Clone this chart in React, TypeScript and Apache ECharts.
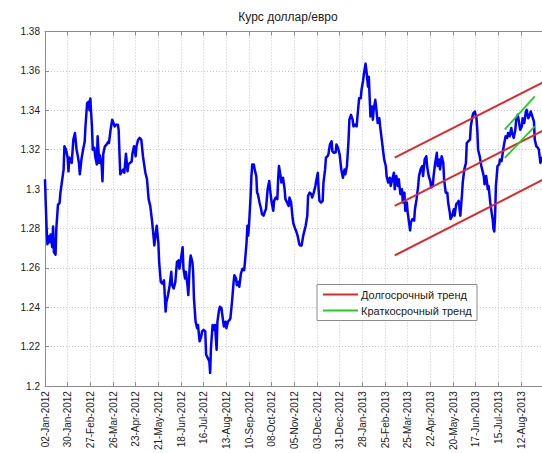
import React, { useEffect, useRef } from "react";
import * as echarts from "echarts";

const chartTitle = "Курс доллар/евро";
const tickLabels = [
  "02-Jan-2012", "30-Jan-2012", "27-Feb-2012", "26-Mar-2012", "23-Apr-2012", "21-May-2012",
  "18-Jun-2012", "16-Jul-2012", "13-Aug-2012", "10-Sep-2012", "08-Oct-2012", "05-Nov-2012",
  "03-Dec-2012", "31-Dec-2012", "28-Jan-2013", "25-Feb-2013", "25-Mar-2013", "22-Apr-2013",
  "20-May-2013", "17-Jun-2013", "15-Jul-2013", "12-Aug-2013",
];

// [days since 02-Jan-2012, USD per EUR]
const rate2012: [number, number][] = [
  [0,1.305],[1,1.2915],[2,1.2798],[3,1.272],[5,1.276],[6,1.273],[7,1.277],[9,1.2705],[10,1.281],[11,1.268],[13,1.2667],[14,1.280],[16,1.292],[18,1.293],[19,1.298],[21,1.304],[23,1.310],[24,1.3217],[26,1.320],[28,1.3159],[29,1.309],[30,1.316],[32,1.314],[33,1.3133],[35,1.325],[36,1.3268],[37,1.3285],[39,1.320],[40,1.318],[42,1.313],[43,1.3075],[45,1.315],[47,1.320],[49,1.324],[50,1.3318],[52,1.3436],[54,1.3444],[55,1.340],[56,1.346],[57,1.3385],[58,1.332],[59,1.320],[61,1.321],[62,1.3167],[64,1.3125],[65,1.3268],[67,1.3133],[68,1.317],[70,1.312],[71,1.304],[72,1.318],[74,1.3217],[76,1.3226],[78,1.324],[79,1.3234],[81,1.330],[83,1.3352],[84,1.3343],[86,1.3318],[88,1.3327],[90,1.3327],[91,1.330],[92,1.318],[93,1.3075],[95,1.309],[97,1.310],[98,1.3083],[100,1.318],[102,1.309],[103,1.3125],[105,1.3133],[107,1.314],[108,1.318],[110,1.3217],[112,1.3167],[113,1.3217],[115,1.325],[117,1.326],[119,1.325],[121,1.3167],[124,1.3083],[126,1.305],[128,1.2949],[130,1.2915],[132,1.2848],[134,1.2764],[135,1.2714],[137,1.278],[138,1.2814],[140,1.273],[141,1.263],[143,1.2529],[145,1.252],[147,1.2537],[149,1.2378],[150,1.2428],[152,1.2462],[154,1.2512],[156,1.258],[157,1.2512],[159,1.2495],[161,1.2529],[163,1.263],[165,1.2638],[166,1.2596],[168,1.2647],[170,1.2705],[171,1.2596],[173,1.2546],[174,1.258],[176,1.2512],[177,1.2462],[179,1.263],[180,1.2663],[182,1.263],[183,1.258],[184,1.2445],[186,1.2327],[188,1.2294],[189,1.231],[191,1.2227],[193,1.2252],[194,1.2277],[196,1.2285],[198,1.2277],[199,1.216],[201,1.2143],[203,1.2126],[204,1.2067],[205,1.2193],[207,1.231],[209,1.2285],[210,1.231],[212,1.2185],[213,1.2327],[215,1.2386],[216,1.2403],[218,1.2395],[219,1.2361],[221,1.2302],[223,1.2327],[224,1.2294],[226,1.2327],[228,1.2336],[229,1.2344],[231,1.2428],[233,1.2529],[234,1.2563],[236,1.2546],[237,1.2512],[239,1.2529],[240,1.2504],[242,1.2571],[244,1.2596],[246,1.2588],[247,1.263],[249,1.273],[250,1.2814],[251,1.2764],[252,1.2814],[254,1.2966],[255,1.3066],[256,1.3125],[258,1.3125],[259,1.310],[261,1.3066],[262,1.2982],[263,1.2974],[265,1.2932],[267,1.2898],[268,1.2873],[270,1.2865],[272,1.289],[273,1.2898],[275,1.2999],[277,1.3041],[278,1.2999],[280,1.2932],[282,1.289],[283,1.294],[285,1.2957],[287,1.2949],[288,1.305],[289,1.3117],[291,1.3066],[292,1.3033],[294,1.3058],[296,1.2999],[297,1.2949],[299,1.2932],[301,1.2915],[302,1.2957],[304,1.2932],[306,1.2848],[307,1.2823],[309,1.2798],[310,1.279],[312,1.2764],[314,1.2722],[315,1.2714],[317,1.2714],[319,1.2764],[320,1.278],[322,1.2814],[324,1.2865],[325,1.2966],[327,1.2982],[329,1.2974],[330,1.2957],[332,1.2982],[334,1.3016],[335,1.3041],[337,1.3083],[338,1.2999],[339,1.294],[341,1.2932],[343,1.294],[344,1.3033],[346,1.310],[347,1.3159],[349,1.3167],[350,1.3175],[352,1.3226],[354,1.3243],[355,1.3192],[357,1.3184],[359,1.3187],[360,1.3226],[362,1.3209],
];
const rate2013: [number, number][] = [
  [364,1.3175],[366,1.310],[368,1.3058],[370,1.310],[371,1.3075],[373,1.3117],[375,1.3251],[376,1.3352],[378,1.3377],[380,1.3352],[381,1.3318],[383,1.3327],[385,1.3318],[386,1.3369],[388,1.3461],[390,1.3461],[391,1.3503],[393,1.3553],[394,1.3587],[396,1.3637],[397,1.3604],[399,1.352],[400,1.357],[401,1.3469],[402,1.3369],[404,1.3419],[405,1.3352],[406,1.3402],[408,1.3453],[409,1.3419],[411,1.3335],[413,1.336],[414,1.3318],[416,1.3251],[418,1.3184],[419,1.315],[421,1.3117],[422,1.3066],[424,1.3033],[426,1.3058],[427,1.3016],[429,1.305],[431,1.3083],[432,1.2999],[434,1.3066],[436,1.3016],[437,1.305],[439,1.2974],[441,1.2999],[442,1.2932],[444,1.2982],[445,1.289],[447,1.2932],[448,1.2882],[450,1.2823],[451,1.279],[452,1.2831],[454,1.2848],[456,1.284],[457,1.2898],[459,1.2949],[461,1.3016],[462,1.3066],[464,1.310],[466,1.3117],[467,1.3066],[469,1.315],[471,1.3167],[472,1.3117],[474,1.3066],[476,1.3041],[477,1.3008],[479,1.3016],[480,1.3066],[482,1.3133],[484,1.3184],[485,1.3117],[487,1.315],[488,1.310],[490,1.3167],[492,1.3133],[493,1.305],[495,1.2982],[497,1.2982],[498,1.2932],[500,1.2882],[501,1.2848],[503,1.2865],[505,1.2898],[506,1.2865],[508,1.2924],[510,1.2932],[511,1.294],[513,1.2865],[515,1.2966],[516,1.3033],[518,1.310],[520,1.3133],[521,1.3234],[523,1.3243],[525,1.3251],[526,1.3318],[528,1.3369],[529,1.3385],[531,1.3394],[533,1.336],[534,1.3301],[535,1.320],[537,1.3167],[539,1.3117],[540,1.310],[542,1.3066],[543,1.3024],[545,1.3066],[547,1.2999],[548,1.3016],[550,1.2932],[552,1.2873],[553,1.2848],[554,1.2798],[555,1.2785],[556,1.2865],[557,1.3016],[559,1.3117],[561,1.3125],[562,1.315],[564,1.3142],[566,1.320],[567,1.3226],[569,1.3268],[571,1.326],[572,1.3285],[574,1.3268],[576,1.331],[577,1.3285],[579,1.326],[581,1.3301],[582,1.3352],[584,1.3377],[585,1.3352],[587,1.3301],[589,1.3318],[590,1.336],[592,1.3335],[594,1.3394],[595,1.3402],[597,1.336],[599,1.3377],[600,1.3394],[602,1.3369],[604,1.3343],[605,1.3251],[607,1.3217],[609,1.3209],[610,1.320],[612,1.3133],[614,1.3159],[617,1.314],
];

// Long-term trend channel (start/end day, value)
const longTrendUpper: [number, number][] = [[432, 1.316], [630, 1.3572]];
const longTrendMiddle: [number, number][] = [[432, 1.2915], [630, 1.3328]];
const longTrendLower: [number, number][] = [[432, 1.2663], [630, 1.3079]];
// Short-term trend channel
const shortTrendUpper: [number, number][] = [[568, 1.3303], [605, 1.3471]];
const shortTrendLower: [number, number][] = [[568, 1.3159], [605, 1.3318]];

const legendNames = ["Долгосрочный тренд", "Краткосрочный тренд"];

const FONT = "'Liberation Sans', Arial, sans-serif";
const RED = "#dd2a2a";
const GREEN = "#22cc22";
const BLUE = "#0000ff";

export default function App() {
  const ref = useRef<HTMLDivElement>(null);
  useEffect(() => {
    if (!ref.current) return;
    const chart = echarts.init(ref.current, undefined, { renderer: "svg" });
    const gridLine = { show: true, lineStyle: { color: "#c8c8c8", type: [1, 2] as any, width: 1 } };
    const xBase = {
      type: "value" as const,
      min: 0,
      max: 630,
      interval: 28,
      axisLine: { show: true, onZero: false, lineStyle: { color: "#8c8c8c" } },
      axisTick: { show: true, inside: true, length: 4, lineStyle: { color: "#8c8c8c" } },
    };
    const trend = (name: string, data: [number, number][], color: string, width: number) => ({
      type: "line" as const,
      name,
      data,
      showSymbol: false,
      symbol: "none",
      lineStyle: { color, width },
      z: 3,
      silent: true,
    });
    chart.setOption({
      animation: false,
      backgroundColor: "#ffffff",
      textStyle: { fontFamily: FONT },
      title: {
        text: chartTitle,
        left: 288,
        top: 11,
        padding: 0,
        textAlign: "center",
        textStyle: { fontFamily: FONT, fontSize: 12, fontWeight: "normal", color: "#1a1a1a" },
      },
      grid: { left: 45, top: 31.5, width: 510, height: 356.5, containLabel: false },
      xAxis: [
        {
          ...xBase,
          position: "bottom",
          splitLine: gridLine,
          axisLabel: {
            rotate: 90,
            margin: 5,
            fontSize: 10,
            fontFamily: FONT,
            color: "#1a1a1a",
            showMaxLabel: false,
            formatter: (v: number) => {
              const i = Math.round(v / 28);
              if (Math.abs(v - i * 28) > 1e-6) return "";
              return tickLabels[i] ?? "";
            },
          },
        },
        {
          ...xBase,
          position: "top",
          splitLine: { show: false },
          axisLabel: { show: false },
        },
      ],
      yAxis: {
        type: "value",
        min: 1.2,
        max: 1.38,
        interval: 0.02,
        axisLine: { show: true, lineStyle: { color: "#8c8c8c" } },
        axisTick: { show: true, inside: true, length: 4, lineStyle: { color: "#8c8c8c" } },
        splitLine: gridLine,
        axisLabel: {
          fontSize: 10,
          fontFamily: FONT,
          color: "#1a1a1a",
          margin: 5,
          formatter: (v: number) => String(Number(v.toFixed(2))),
        },
      },
      series: [
        {
          type: "line",
          name: "Курс",
          data: [...rate2012, ...rate2013],
          showSymbol: false,
          symbol: "none",
          lineStyle: { color: BLUE, width: 2.5, join: "round" },
          z: 2,
          silent: true,
        },
        trend(legendNames[0], longTrendUpper, RED, 2),
        trend(legendNames[0] + " ", longTrendMiddle, RED, 2),
        trend(legendNames[0] + "  ", longTrendLower, RED, 2),
        trend(legendNames[1], shortTrendUpper, GREEN, 1.8),
        trend(legendNames[1] + " ", shortTrendLower, GREEN, 1.8),
      ],
      graphic: [
        {
          type: "rect",
          shape: { x: 317, y: 284.5, width: 160, height: 36 },
          style: { fill: "#ffffff", stroke: "#8c8c8c", lineWidth: 1 },
          z: 100,
        },
        {
          type: "line",
          shape: { x1: 323, y1: 294.5, x2: 358, y2: 294.5 },
          style: { stroke: RED, lineWidth: 2 },
          z: 101,
        },
        {
          type: "line",
          shape: { x1: 323, y1: 310.5, x2: 358, y2: 310.5 },
          style: { stroke: GREEN, lineWidth: 2 },
          z: 101,
        },
        {
          type: "text",
          x: 361,
          y: 294.5,
          style: { text: legendNames[0], fontSize: 11, fontFamily: FONT, fill: "#1a1a1a", textVerticalAlign: "middle", verticalAlign: "middle" },
          z: 101,
        },
        {
          type: "text",
          x: 361,
          y: 310.5,
          style: { text: legendNames[1], fontSize: 11, fontFamily: FONT, fill: "#1a1a1a", textVerticalAlign: "middle", verticalAlign: "middle" },
          z: 101,
        },
      ],
    });
    return () => chart.dispose();
  }, []);
  return (
    <div style={{ position: "fixed", left: 0, top: 0, width: 542, height: 453, overflow: "hidden", background: "#fff" }}>
      <div ref={ref} style={{ width: 560, height: 453 }} />
    </div>
  );
}
